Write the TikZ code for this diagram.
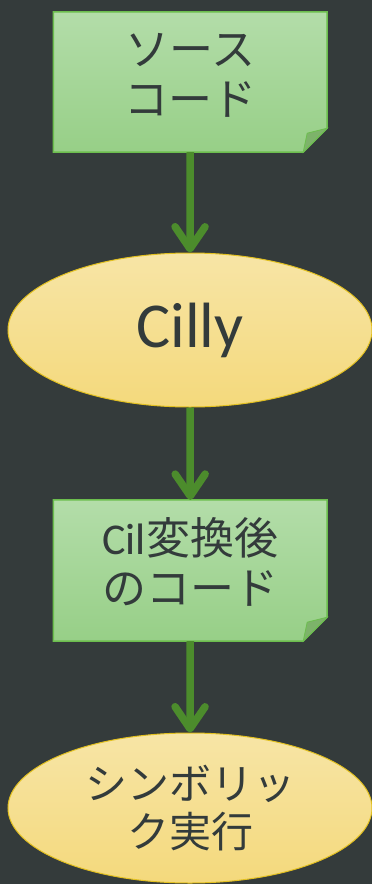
\documentclass[tikz,border=0pt]{standalone}
\usepackage{fontspec}
\setmainfont{Carlito}
\newfontfamily\jp{Noto Sans CJK JP}
\usetikzlibrary{shapes.geometric,arrows.meta}
\definecolor{bgc}{HTML}{343B3B}
\definecolor{txtc}{HTML}{333B3B}
\definecolor{boxtop}{HTML}{B3DDA9}
\definecolor{boxbot}{HTML}{97CF87}
\definecolor{boxline}{HTML}{6CBE4E}
\definecolor{foldc}{HTML}{7DB36A}
\definecolor{elltop}{HTML}{F7E5A6}
\definecolor{ellbot}{HTML}{F4D97C}
\definecolor{ellline}{HTML}{E2C020}
\definecolor{arrc}{HTML}{4C8C2C}
\begin{document}
\begin{tikzpicture}[x=1pt,y=-1pt,
  notebox/.style={rectangle, draw=none, fill=none, minimum width=273.5pt, minimum height=140pt, inner sep=0pt},
  notetext/.style={text=txtc, font=\jp\fontsize{44}{50}\selectfont, align=center, inner sep=0pt},
  ell/.style={ellipse, draw=ellline, line width=1pt, top color=elltop, bottom color=ellbot, inner sep=0pt, text=txtc, align=center},
  arr/.style={draw=arrc, line width=7.5pt, -{Straight Barb[length=22pt,width=30pt,round]}}
]
\fill[bgc] (0,0) rectangle (372,884);
\useasboundingbox (0,0) rectangle (372,884);

% box 1
\node[notebox] (b1) at (190.25,82) {};
\shade[top color=boxtop, bottom color=boxbot, draw=boxline, line width=1.5pt]
  (b1.north west) -- (b1.north east) -- ([yshift=24pt]b1.south east)
  -- ([xshift=-24pt]b1.south east) -- (b1.south west) -- cycle;
\fill[foldc, draw=boxline, line width=0.8pt] ([yshift=24pt]b1.south east)
  -- ([xshift=-20pt,yshift=19pt]b1.south east) -- ([xshift=-24pt]b1.south east) -- cycle;
\node[notetext] (b1t) at (190.25,75) {ソース\\コード};

% ellipse 1
\node[ell, minimum width=364pt, minimum height=154pt, font=\fontsize{64}{70}\selectfont] (e1) at (190,330) {Cilly};

% box 2
\node[notebox, minimum height=141pt] (b2) at (190.25,570.5) {};
\shade[top color=boxtop, bottom color=boxbot, draw=boxline, line width=1.5pt]
  (b2.north west) -- (b2.north east) -- ([yshift=24pt]b2.south east)
  -- ([xshift=-24pt]b2.south east) -- (b2.south west) -- cycle;
\fill[foldc, draw=boxline, line width=0.8pt] ([yshift=24pt]b2.south east)
  -- ([xshift=-20pt,yshift=19pt]b2.south east) -- ([xshift=-24pt]b2.south east) -- cycle;
\node[notetext] (b2t) at (190.25,562) {{\fontspec{Carlito}Cil}変換後\\のコード};

% ellipse 2
\node[ell, minimum width=364pt, minimum height=150pt, font=\jp\fontsize{42}{48}\selectfont] (e2) at (190,808) {シンボリッ\\ク実行};

% arrows
\draw[arr] (b1.south) -- (e1.north);
\draw[arr] (e1.south) -- (b2.north);
\draw[arr] (b2.south) -- (e2.north);
\end{tikzpicture}
\end{document}
